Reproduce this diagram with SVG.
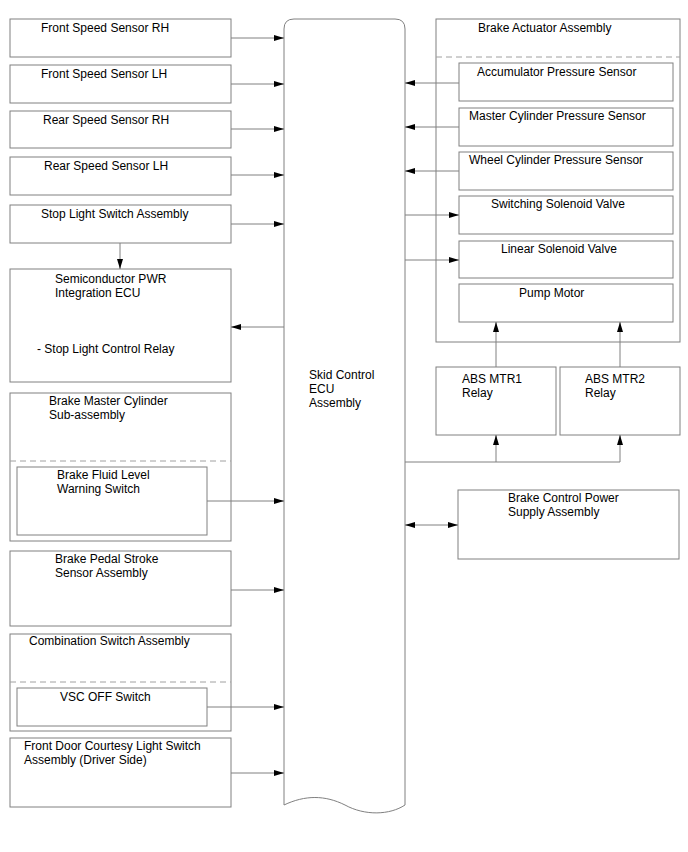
<svg xmlns="http://www.w3.org/2000/svg" width="688" height="852" viewBox="0 0 688 852">
<defs>
<marker id="ah" viewBox="0 0 10 8" refX="10" refY="4" markerWidth="10" markerHeight="8" markerUnits="userSpaceOnUse" orient="auto-start-reverse">
<path d="M0,1 L10,4 L0,7 Z" fill="#000"/>
</marker>
</defs>
<style>
.b{fill:#fff;stroke:#808080;stroke-width:1}
.d{stroke:#a0a0a0;stroke-width:1;stroke-dasharray:6,4;fill:none}
.c{stroke:#808080;stroke-width:1;fill:none}
.a{marker-end:url(#ah)}
.bi{marker-start:url(#ah);marker-end:url(#ah)}
text{font-family:"Liberation Sans",Arial,sans-serif;font-size:12px;fill:#000}
</style>
<rect width="688" height="852" fill="#fff"/>

<g id="ecu">
<path class="b" d="M284,805 L284,29 Q284,19 294,19 L395,19 Q405,19 405,29 L405,805 C390,815 365,816 345,805 C325,795 305,795 284,805 Z"/>
<text x="309" y="379">Skid Control</text>
<text x="309" y="393">ECU</text>
<text x="309" y="407">Assembly</text>
</g>

<g id="fss-rh"><rect class="b" x="10" y="19" width="221" height="38"/><text x="41" y="32">Front Speed Sensor RH</text></g>
<g id="fss-lh"><rect class="b" x="10" y="65" width="221" height="38"/><text x="41" y="78">Front Speed Sensor LH</text></g>
<g id="rss-rh"><rect class="b" x="10" y="111" width="221" height="37"/><text x="43" y="124">Rear Speed Sensor RH</text></g>
<g id="rss-lh"><rect class="b" x="10" y="157" width="221" height="38"/><text x="44" y="170">Rear Speed Sensor LH</text></g>
<g id="stop-sw"><rect class="b" x="10" y="205" width="221" height="38"/><text x="41" y="218">Stop Light Switch Assembly</text></g>
<g id="semi-ecu"><rect class="b" x="10" y="269" width="221" height="113"/>
<text x="55" y="283">Semiconductor PWR</text><text x="55" y="297">Integration ECU</text>
<text x="37" y="353">- Stop Light Control Relay</text></g>
<g id="bmc"><rect class="b" x="10" y="393" width="221" height="148"/>
<text x="49" y="405">Brake Master Cylinder</text><text x="49" y="419">Sub-assembly</text>
<line class="d" x1="10" y1="461" x2="231" y2="461"/></g>
<g id="bfl"><rect class="b" x="17" y="467" width="190" height="68"/>
<text x="57" y="479">Brake Fluid Level</text><text x="57" y="493">Warning Switch</text></g>
<g id="bps"><rect class="b" x="10" y="551" width="221" height="75"/>
<text x="55" y="563">Brake Pedal Stroke</text><text x="55" y="577">Sensor Assembly</text></g>
<g id="comb"><rect class="b" x="10" y="634" width="221" height="97"/>
<text x="29" y="645">Combination Switch Assembly</text>
<line class="d" x1="10" y1="682" x2="231" y2="682"/></g>
<g id="vsc"><rect class="b" x="17" y="688" width="190" height="38"/><text x="60" y="701">VSC OFF Switch</text></g>
<g id="door"><rect class="b" x="10" y="738" width="221" height="69"/>
<text x="24" y="750">Front Door Courtesy Light Switch</text><text x="24" y="764">Assembly (Driver Side)</text></g>

<g id="actuator"><rect class="b" x="436" y="19" width="244" height="323"/>
<text x="478" y="32">Brake Actuator Assembly</text>
<line class="d" x1="436" y1="57" x2="680" y2="57"/></g>
<g id="acc"><rect class="b" x="459" y="63" width="214" height="38"/><text x="477" y="76">Accumulator Pressure Sensor</text></g>
<g id="mcp"><rect class="b" x="459" y="108" width="214" height="38"/><text x="469" y="120">Master Cylinder Pressure Sensor</text></g>
<g id="wcp"><rect class="b" x="459" y="152" width="214" height="38"/><text x="469" y="164">Wheel Cylinder Pressure Sensor</text></g>
<g id="ssv"><rect class="b" x="459" y="196" width="214" height="38"/><text x="491" y="208">Switching Solenoid Valve</text></g>
<g id="lsv"><rect class="b" x="459" y="241" width="214" height="37"/><text x="501" y="253">Linear Solenoid Valve</text></g>
<g id="pump"><rect class="b" x="459" y="284" width="214" height="38"/><text x="519" y="297">Pump Motor</text></g>
<g id="mtr1"><rect class="b" x="436" y="367" width="120" height="68"/><text x="462" y="383">ABS MTR1</text><text x="462" y="397">Relay</text></g>
<g id="mtr2"><rect class="b" x="560" y="367" width="120" height="68"/><text x="585" y="383">ABS MTR2</text><text x="585" y="397">Relay</text></g>
<g id="bcps"><rect class="b" x="458" y="490" width="221" height="69"/>
<text x="508" y="502">Brake Control Power</text><text x="508" y="516">Supply Assembly</text></g>

<g id="connectors">
<line class="c a" x1="231" y1="38" x2="284" y2="38"/>
<line class="c a" x1="231" y1="84" x2="284" y2="84"/>
<line class="c a" x1="231" y1="129" x2="284" y2="129"/>
<line class="c a" x1="231" y1="175" x2="284" y2="175"/>
<line class="c a" x1="231" y1="224" x2="284" y2="224"/>
<line class="c a" x1="120" y1="243" x2="120" y2="269"/>
<line class="c a" x1="284" y1="327" x2="231" y2="327"/>
<line class="c a" x1="207" y1="501" x2="284" y2="501"/>
<line class="c a" x1="231" y1="590" x2="284" y2="590"/>
<line class="c a" x1="207" y1="707" x2="284" y2="707"/>
<line class="c a" x1="231" y1="773" x2="284" y2="773"/>
<line class="c a" x1="459" y1="83" x2="405" y2="83"/>
<line class="c a" x1="459" y1="127" x2="405" y2="127"/>
<line class="c a" x1="459" y1="171" x2="405" y2="171"/>
<line class="c a" x1="405" y1="215" x2="459" y2="215"/>
<line class="c a" x1="405" y1="260" x2="459" y2="260"/>
<line class="c a" x1="496" y1="367" x2="496" y2="322"/>
<line class="c a" x1="620" y1="367" x2="620" y2="322"/>
<polyline class="c" points="405,462 620,462"/>
<line class="c a" x1="496" y1="462" x2="496" y2="435"/>
<line class="c a" x1="620" y1="462" x2="620" y2="435"/>
<line class="c bi" x1="405" y1="525" x2="458" y2="525"/>
</g>
</svg>
